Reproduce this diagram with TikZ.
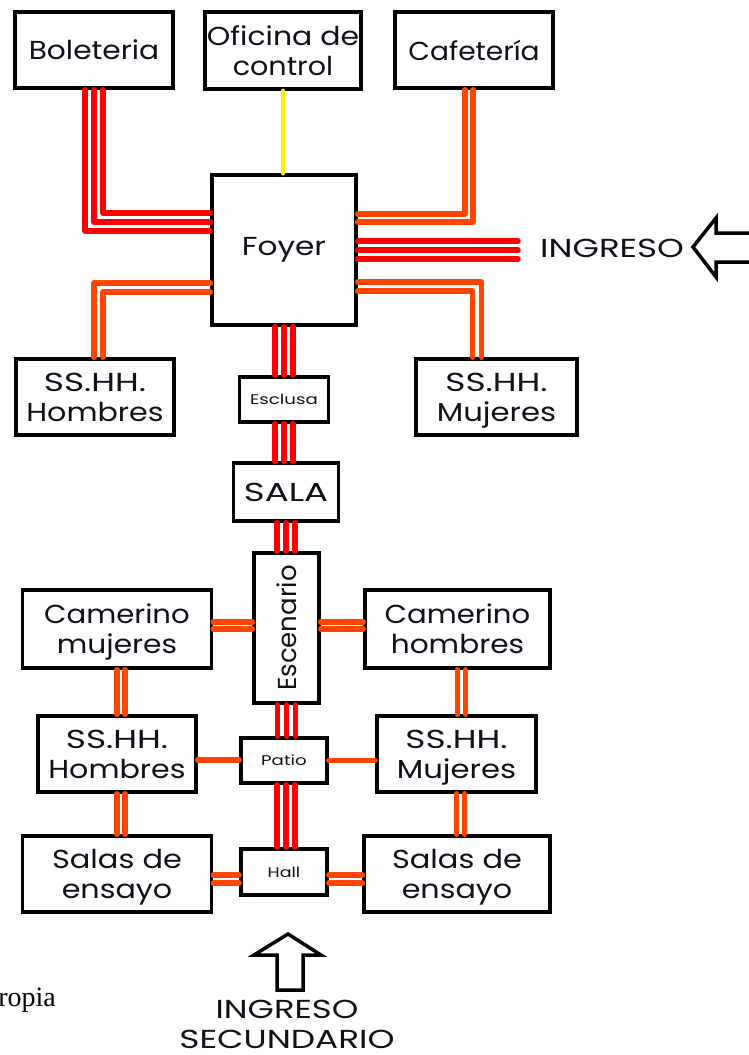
\documentclass[tikz,border=0pt]{standalone}
\usepackage{graphicx}
\usepackage{fontspec}
\setmainfont{Liberation Serif}
\newfontfamily\geo{Poppins}
\usetikzlibrary{calc}
\definecolor{orangeline}{HTML}{FF4500}
\definecolor{inktext}{HTML}{10101A}
\newcommand\lab{\geo\fontsize{26}{30}\selectfont\color{inktext}}
\newcommand\labsmall{\geo\fontsize{14}{16}\selectfont\color{inktext}}
\newcommand\sx[2][1.15]{\scalebox{#1}[1]{#2}}
\newcommand\sxa[2][1.15]{\scalebox{#1}[1]{\vphantom{Hj}\rule{0pt}{26pt}#2}}
\newcommand\sxs[2][1.15]{\scalebox{#1}[1]{\vphantom{Hj}#2}}
\tikzset{
  box/.style={draw=black, line width=3.5pt, fill=white, inner sep=0pt, align=center, font=\lab},
  redl/.style={draw=red, line width=5.5pt, line cap=round, line join=round},
  orl/.style={draw=orangeline, line width=5.5pt, line cap=round, line join=round},
  yel/.style={draw=yellow, line width=4.5pt, line cap=round},
  blockarrow/.style={draw=black, fill=white, line width=3.5pt, line join=miter},
}
\newcommand\vconn[4]{\foreach \d in {#4}{\coordinate (tmp) at ($(#2.south)+(\d,0)$); \draw[#1] (tmp) -- (tmp |- #3.north);}}
\newcommand\hconn[4]{\foreach \d in {#4}{\coordinate (tmp) at ($(#2.east)+(0,\d)$); \draw[#1] (tmp) -- (tmp -| #3.west);}}
\begin{document}
\begin{tikzpicture}[x=1pt,y=-1pt]
\useasboundingbox (0,0) rectangle (748,1055);
% boxes
\node[box, minimum width=158pt, minimum height=76pt] (bol) at (94,50) {\sx[1.14]{Boleteria}};
\node[box, minimum width=156pt, minimum height=77pt] (ofi) at (283,50.5) {\sxa{Oficina de}\\\sxs[1.1]{control}};
\node[box, minimum width=158pt, minimum height=76pt] (caf) at (474,50) {\sx[1.08]{Cafetería}};
\node[box, minimum width=144pt, minimum height=150pt] (foy) at (284,250) {\sx[1.2]{Foyer}};
\node[box, minimum width=158pt, minimum height=76pt] (shm) at (95,397) {\sxa[1.32]{SS.HH.}\\\sxs[1.16]{Hombres}};
\node[box, minimum width=161pt, minimum height=76pt] (smu) at (496.5,397) {\sxa[1.32]{SS.HH.}\\\sxs[1.18]{Mujeres}};
\node[box, minimum width=89pt, minimum height=45pt, font=\labsmall] (esc) at (284,399.5) {\sx[1.3]{Esclusa}};
\node[box, minimum width=105pt, minimum height=58pt] (sala) at (286,492) {\sx[1.37]{SALA}};
\node[box, minimum width=65pt, minimum height=150pt] (esce) at (286.5,628) {};
\node[rotate=90, font=\lab] (escet) at (esce.center) {Escenario};
\node[box, minimum width=189pt, minimum height=78pt] (camm) at (117,629) {\sxa[1.12]{Camerino}\\\sxs[1.14]{mujeres}};
\node[box, minimum width=185pt, minimum height=78pt] (camh) at (457.5,629) {\sxa[1.12]{Camerino}\\\sxs[1.14]{hombres}};
\node[box, minimum width=158pt, minimum height=76pt] (shb) at (117,754) {\sxa[1.32]{SS.HH.}\\\sxs[1.16]{Hombres}};
\node[box, minimum width=86pt, minimum height=45pt, font=\labsmall] (pat) at (284,760.5) {\sx[1.3]{Patio}};
\node[box, minimum width=159pt, minimum height=76pt] (smb) at (456.5,754) {\sxa[1.32]{SS.HH.}\\\sxs[1.18]{Mujeres}};
\node[box, minimum width=86pt, minimum height=46pt, font=\labsmall] (hall) at (284,872) {\sx[1.25]{Hall}};
\node[box, minimum width=189pt, minimum height=76pt] (sal) at (117,874) {\sxa[1.17]{Salas de}\\\sxs[1.16]{ensayo}};
\node[box, minimum width=186pt, minimum height=76pt] (sar) at (457,874) {\sxa[1.17]{Salas de}\\\sxs[1.16]{ensayo}};
% entrance labels
\coordinate (ingend) at (518,250);
\node[font=\lab, anchor=west, inner sep=0pt] (ingt) at (540,248) {\sx[1.31]{INGRESO}};
\node[font=\lab, align=center, inner sep=0pt] (ing2) at (287,1024) {\sx[1.3]{INGRESO}\\\sx[1.32]{SECUNDARIO}};
\node[font=\rmfamily\fontsize{28}{32}\selectfont, anchor=base east, inner sep=0pt] (src) at (56,1006) {propia};
% block arrows
\draw[blockarrow] (693,247) -- (716,218) -- (716,233) -- (770,233) -- (770,262) -- (716,262) -- (716,277) -- cycle;
\draw[blockarrow] (288,934) -- (321,955) -- (303,955) -- (303,990) -- (277,990) -- (277,955) -- (254,955) -- cycle;
% connectors
\draw[yel] (ofi.south) -- (ofi.south |- foy.north);
\draw[redl] ($(bol.south)+(-9,0)$) |- ($(foy.west)+(0,-19)$);
\draw[redl] ($(bol.south)+(0,0)$) |- ($(foy.west)+(0,-28)$);
\draw[redl] ($(bol.south)+(9,0)$) |- ($(foy.west)+(0,-37)$);
\draw[orl] ($(caf.south)+(-9,0)$) |- ($(foy.east)+(0,-36)$);
\draw[orl] ($(caf.south)+(-1,0)$) |- ($(foy.east)+(0,-28)$);
\foreach \d in {-9,0,9}{\coordinate (tmp) at ($(foy.east)+(0,\d)$); \draw[redl] (tmp) -- (tmp -| ingend);}
\draw[orl] ($(foy.east)+(0,32)$) -| ($(smu.north)+(-15,0)$);
\draw[orl] ($(foy.east)+(0,41)$) -| ($(smu.north)+(-24,0)$);
\draw[orl] ($(foy.west)+(0,33)$) -| ($(shm.north)+(-1,0)$);
\draw[orl] ($(foy.west)+(0,42)$) -| ($(shm.north)+(8,0)$);
\vconn{redl}{foy}{esc}{-9,0,9}
\vconn{redl}{esc}{sala}{-9,0,9}
\vconn{redl}{sala}{esce}{-9,0,9}
\vconn{redl}{esce}{pat}{-9,0,9}
\vconn{redl}{pat}{hall}{-7,2,11}
\vconn{orl}{camm}{shb}{0,8}
\vconn{orl}{shb}{sal}{0,8}
\vconn{orl}{camh}{smb}{0,8}
\vconn{orl}{smb}{sar}{0,8}
\hconn{orl}{camm}{esce}{-7,0}
\hconn{orl}{esce}{camh}{-6,1}
\hconn{orl}{shb}{pat}{6}
\hconn{orl}{pat}{smb}{0}
\hconn{orl}{sal}{hall}{1,9}
\hconn{orl}{hall}{sar}{3,11}
\end{tikzpicture}
\end{document}
